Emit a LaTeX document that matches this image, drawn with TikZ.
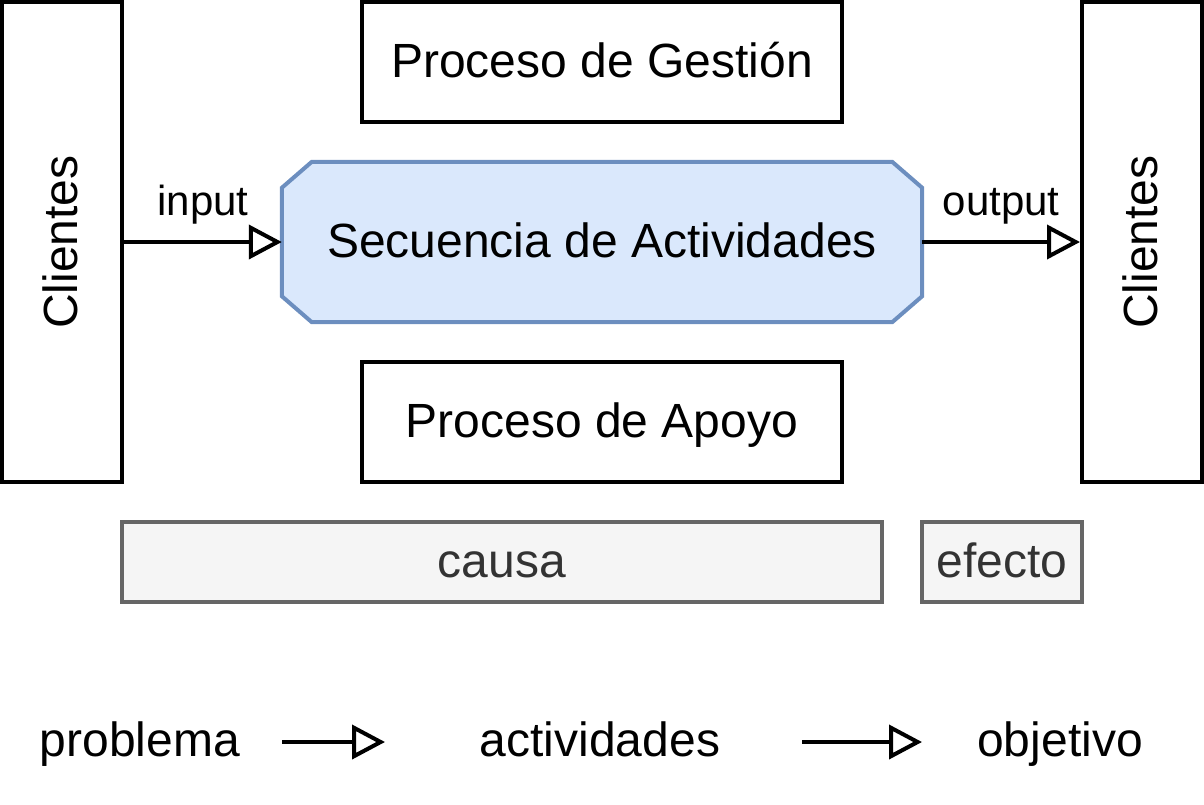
\documentclass[tikz,border=0pt]{standalone}
\usepackage{fontspec}
\setmainfont{Liberation Sans}
\usetikzlibrary{arrows.meta}
\definecolor{bluefill}{HTML}{DAE8FC}
\definecolor{bluedraw}{HTML}{6C8EBF}
\definecolor{grayfill}{HTML}{F5F5F5}
\definecolor{graydraw}{HTML}{666666}
\definecolor{graytext}{HTML}{333333}
\tikzset{
  big/.style={font=\fontsize{48}{56}\selectfont, text height=36pt, text depth=6pt},
  box/.style={draw=black, line width=4pt, fill=white, inner sep=0pt, big},
  graybox/.style={draw=graydraw, line width=4pt, fill=grayfill, text=graytext, inner sep=0pt, minimum height=80pt, big},
  plain/.style={inner sep=0pt, big},
  small/.style={inner sep=0pt, font=\fontsize{42}{50}\selectfont, text height=32pt, text depth=5pt},
  flow/.style={line width=4pt, -{Triangle[open, length=33pt, width=34pt, line width=4pt, fill=white]}}
}
\begin{document}
\begin{tikzpicture}[x=1pt,y=-1pt]
\useasboundingbox (0,0) rectangle (1204,804);
% clients
\node[box, rotate=90, minimum width=480pt, minimum height=120pt] (cl) at (62,242) {Clientes};
\node[box, rotate=90, minimum width=480pt, minimum height=120pt] (cr) at (1142,242) {Clientes};
% processes
\node[box, minimum width=480pt, minimum height=120pt] (ges) at (602,62) {Proceso de Gestión};
\node[box, minimum width=480pt, minimum height=120pt] (apo) at (602,422) {Proceso de Apoyo};
% octagon
\node[inner sep=0pt, minimum width=640pt, minimum height=160pt] (sec) at (602,242) {};
\draw[draw=bluedraw, fill=bluefill, line width=4pt, line join=miter]
  ([xshift=30pt]sec.north west) -- ([xshift=-30pt]sec.north east)
  -- ([yshift=-26pt]sec.north east) -- ([yshift=26pt]sec.south east)
  -- ([xshift=-30pt]sec.south east) -- ([xshift=30pt]sec.south west)
  -- ([yshift=26pt]sec.south west) -- ([yshift=-26pt]sec.north west) -- cycle;
\node[plain] at (sec.center) {Secuencia de Actividades};
% arrows
\draw[flow] (cl.south) -- (sec.west) node[midway, yshift=40pt, small] (in) {input};
\draw[flow] (sec.east) -- (cr.north) node[midway, yshift=40pt, small] (out) {output};
% cause / effect
\node[graybox, minimum width=760pt] (causa) at (502,562) {causa};
\node[graybox, minimum width=160pt] (efecto) at (1002,562) {efecto};
% bottom line
\node[plain] (prob) at (140,741) {problema};
\node[plain] (act) at (600,741) {actividades};
\node[plain] (obj) at (1060,741) {objetivo};
\coordinate (a1) at (282,742);
\coordinate (a2) at (385,742);
\coordinate (b1) at (802,742);
\coordinate (b2) at (922,742);
\draw[flow] (a1) -- (a2);
\draw[flow] (b1) -- (b2);
\end{tikzpicture}
\end{document}
